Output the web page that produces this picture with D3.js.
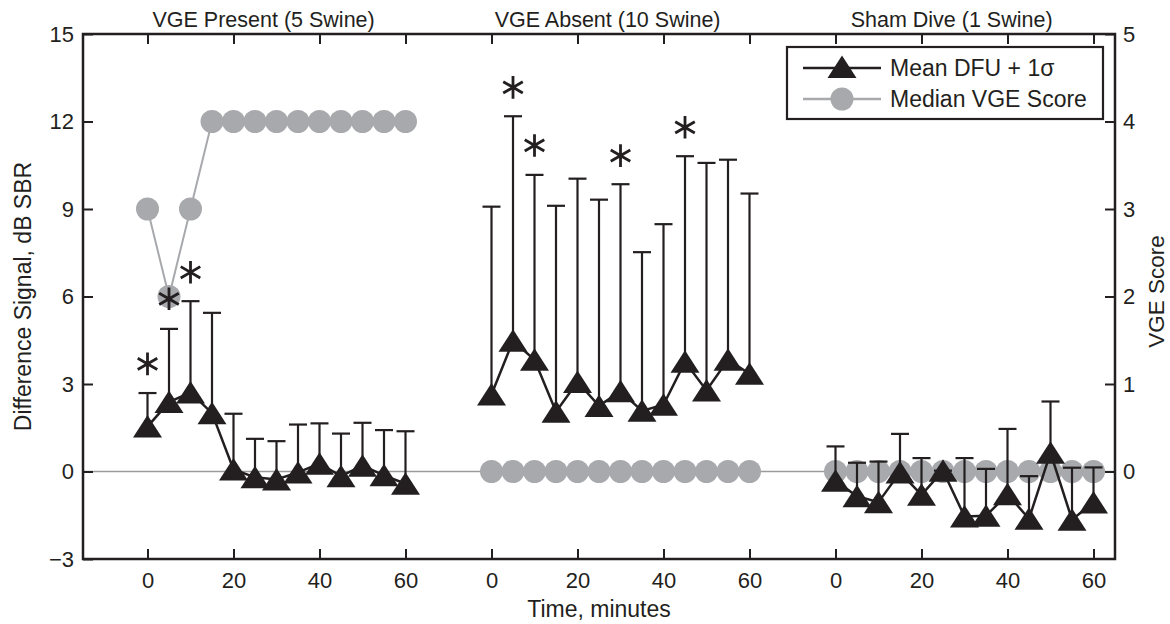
<!DOCTYPE html>
<html>
<head>
<meta charset="utf-8">
<script src="https://cdn.jsdelivr.net/npm/d3@7"></script>
<style>
body { margin: 0; background: #fff; }
text { font-family: "Liberation Sans", Arial, Helvetica, sans-serif; fill: #231f20; }
</style>
</head>
<body>
<svg width="1170" height="624"></svg>
<script>
// minutes after surfacing, same for every group
const times = [0, 5, 10, 15, 20, 25, 30, 35, 40, 45, 50, 55, 60];

const groupNames = ['VGE Present (5 Swine)', 'VGE Absent (10 Swine)', 'Sham Dive (1 Swine)'];

// mean DFU (dB SBR) and mean + 1 sigma
const presentMean = [1.54, 2.38, 2.71, 2.0, 0.07, -0.2, -0.27, -0.03, 0.27, -0.16, 0.2, -0.13, -0.42];
const presentTop  = [2.69, 4.89, 5.84, 5.44, 1.98, 1.12, 1.04, 1.61, 1.65, 1.30, 1.67, 1.42, 1.38];
const absentMean  = [2.64, 4.48, 3.83, 2.05, 3.07, 2.25, 2.75, 2.08, 2.29, 3.76, 2.78, 3.83, 3.35];
const absentTop   = [9.08, 12.18, 10.17, 9.11, 10.04, 9.32, 9.85, 7.52, 8.48, 10.81, 10.58, 10.69, 9.53];
const shamMean    = [-0.32, -0.85, -1.05, -0.03, -0.8, 0.03, -1.54, -1.52, -0.78, -1.62, 0.64, -1.65, -1.06];
const shamTop     = [0.86, 0.3, 0.34, 1.29, 0.46, 0.03, 0.46, 0.09, 1.46, -0.16, 2.4, 0.13, 0.14];

// median VGE score
const presentVGE = [3, 2, 3, 4, 4, 4, 4, 4, 4, 4, 4, 4, 4];
const absentVGE  = [0, 0, 0, 0, 0, 0, 0, 0, 0, 0, 0, 0, 0];
const shamVGE    = [0, 0, 0, 0, 0, 0, 0, 0, 0, 0, 0, 0, 0];

// significance markers [time, dB]
const presentStars = [[0, 3.69], [5, 5.92], [10, 6.83]];
const absentStars  = [[5, 13.17], [10, 11.18], [30, 10.83], [45, 11.8]];
const shamStars    = [];

const leftTicks  = [-3, 0, 3, 6, 9, 12, 15];
const rightTicks = [0, 1, 2, 3, 4, 5];
const timeTicks  = [0, 20, 40, 60];

const black = '#231f20';
const grey = '#a7a9ac';

const groups = [
  { name: groupNames[0], offset: 0,   mean: presentMean, top: presentTop, vge: presentVGE, stars: presentStars },
  { name: groupNames[1], offset: 80,  mean: absentMean,  top: absentTop,  vge: absentVGE,  stars: absentStars },
  { name: groupNames[2], offset: 160, mean: shamMean,    top: shamTop,    vge: shamVGE,    stars: shamStars }
];

const svg = d3.select('svg');
const pLeft = 83, pRight = 1115, pTop = 34, pBottom = 559;

const x = d3.scaleLinear().domain([-15, 225]).range([pLeft, pRight]);
const y = d3.scaleLinear().domain([-3, 15]).range([pBottom, pTop]);
const yR = d3.scaleLinear().domain([-1, 5]).range([pBottom, pTop]);

// zero reference line
svg.append('line')
  .attr('x1', pLeft).attr('x2', pRight)
  .attr('y1', y(0)).attr('y2', y(0))
  .attr('stroke', '#9a9a9a').attr('stroke-width', 1.5);

const tri = 'M0,-11.5L14.5,11L-14.5,11Z';
const star = d3.symbol(d3.symbolAsterisk, 360);

groups.forEach(g => {
  const pts = times.map((t, i) => ({ t: t + g.offset, m: g.mean[i], top: g.top[i], v: g.vge[i] }));
  const p = svg.append('g');

  p.append('path')
    .datum(pts)
    .attr('fill', 'none').attr('stroke', grey).attr('stroke-width', 2)
    .attr('d', d3.line().x(d => x(d.t)).y(d => yR(d.v)));

  p.selectAll('circle').data(pts).enter().append('circle')
    .attr('cx', d => x(d.t)).attr('cy', d => yR(d.v))
    .attr('r', 11.5).attr('fill', grey);

  const bar = p.selectAll('.bar').data(pts).enter().append('g')
    .attr('class', 'bar')
    .attr('stroke', black).attr('stroke-width', 2.2);
  bar.append('line')
    .attr('x1', d => x(d.t)).attr('x2', d => x(d.t))
    .attr('y1', d => y(d.m)).attr('y2', d => y(d.top));
  bar.append('line')
    .attr('x1', d => x(d.t) - 9).attr('x2', d => x(d.t) + 9)
    .attr('y1', d => y(d.top)).attr('y2', d => y(d.top));

  p.append('path')
    .datum(pts)
    .attr('fill', 'none').attr('stroke', black).attr('stroke-width', 2.5)
    .attr('d', d3.line().x(d => x(d.t)).y(d => y(d.m)));

  p.selectAll('.tri').data(pts).enter().append('path')
    .attr('class', 'tri')
    .attr('d', tri)
    .attr('transform', d => `translate(${x(d.t)},${y(d.m)})`)
    .attr('fill', black);

  p.selectAll('.star').data(g.stars).enter().append('path')
    .attr('class', 'star')
    .attr('d', star)
    .attr('transform', d => `translate(${x(d[0] + g.offset)},${y(d[1])})`)
    .attr('fill', 'none').attr('stroke', black).attr('stroke-width', 2.8);

  svg.append('text')
    .attr('x', x(g.offset + 27)).attr('y', 27)
    .attr('text-anchor', 'middle')
    .style('font-size', '21.5px')
    .text(g.name);
});

// axes, ticks pointing inward
const allTimes = groups.flatMap(g => timeTicks.map(t => t + g.offset));

const axBottom = svg.append('g')
  .attr('transform', `translate(0,${pBottom})`)
  .call(d3.axisBottom(x).tickValues(allTimes).tickFormat(d => d % 80)
    .tickSizeInner(-10).tickSizeOuter(0).tickPadding(13));
const axTop = svg.append('g')
  .attr('transform', `translate(0,${pTop})`)
  .call(d3.axisTop(x).tickValues(allTimes).tickFormat('')
    .tickSizeInner(-10).tickSizeOuter(0));
const axLeft = svg.append('g')
  .attr('transform', `translate(${pLeft},0)`)
  .call(d3.axisLeft(y).tickValues(leftTicks)
    .tickSizeInner(-10).tickSizeOuter(0).tickPadding(9));
const axRight = svg.append('g')
  .attr('transform', `translate(${pRight},0)`)
  .call(d3.axisRight(yR).tickValues(rightTicks).tickFormat(d3.format('d'))
    .tickSizeInner(-10).tickSizeOuter(0).tickPadding(8));

[axBottom, axTop, axLeft, axRight].forEach(a => {
  a.select('.domain').remove();
  a.selectAll('line').attr('stroke', black).attr('stroke-width', 2);
  a.selectAll('text').style('font-size', '22px').attr('fill', black);
});

svg.append('rect')
  .attr('x', pLeft).attr('y', pTop)
  .attr('width', pRight - pLeft).attr('height', pBottom - pTop)
  .attr('fill', 'none').attr('stroke', black).attr('stroke-width', 2.5);

// axis labels
svg.append('text')
  .attr('transform', `translate(31,${(pTop + pBottom) / 2}) rotate(-90)`)
  .attr('text-anchor', 'middle')
  .style('font-size', '23px')
  .text('Difference Signal, dB SBR');

svg.append('text')
  .attr('transform', `translate(1164,${(pTop + pBottom) / 2 - 5}) rotate(-90)`)
  .attr('text-anchor', 'middle')
  .style('font-size', '22.5px')
  .text('VGE Score');

svg.append('text')
  .attr('x', (pLeft + pRight) / 2).attr('y', 617)
  .attr('text-anchor', 'middle')
  .style('font-size', '23px')
  .text('Time, minutes');

// legend
const lg = svg.append('g').attr('transform', 'translate(787,47)');
lg.append('rect')
  .attr('width', 316).attr('height', 72)
  .attr('fill', '#fff').attr('stroke', black).attr('stroke-width', 2.2);

const legendItems = [
  { label: 'Mean DFU + 1\u03c3', color: black, shape: 'tri', y: 21 },
  { label: 'Median VGE Score', color: grey, shape: 'circle', y: 52 }
];
legendItems.forEach(it => {
  lg.append('line')
    .attr('x1', 16).attr('x2', 94).attr('y1', it.y).attr('y2', it.y)
    .attr('stroke', it.color).attr('stroke-width', 2.5);
  if (it.shape === 'tri') {
    lg.append('path').attr('d', tri)
      .attr('transform', `translate(55,${it.y - 1})`).attr('fill', black);
  } else {
    lg.append('circle').attr('cx', 55).attr('cy', it.y).attr('r', 11.5).attr('fill', grey);
  }
  lg.append('text')
    .attr('x', 103).attr('y', it.y + 8)
    .style('font-size', '23px')
    .text(it.label);
});
</script>
</body>
</html>
